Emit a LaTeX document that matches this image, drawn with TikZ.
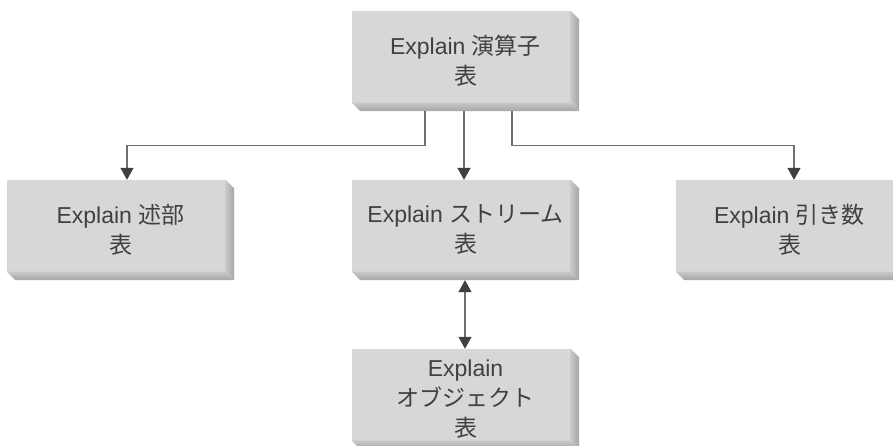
\documentclass[tikz,border=0pt]{standalone}
\usepackage{fontspec}
\setmainfont{Liberation Sans}
\newfontfamily\cjk{Noto Sans CJK JP}
\usepackage{tikz}
\usetikzlibrary{arrows.meta, backgrounds}
\definecolor{faceColor}{RGB}{215,215,215}
\definecolor{shadeLight}{RGB}{200,200,200}
\definecolor{shadeDark}{RGB}{165,165,165}
\definecolor{lineColor}{RGB}{112,112,112}
\definecolor{tipColor}{RGB}{64,64,64}
\definecolor{textColor}{RGB}{64,64,64}
\tikzstyle{diagram} = [x = 1pt, y = 1pt]
\tikzstyle{tableBox} = [minimum width = 227pt, minimum height = 100pt, inner sep = 0pt, align = center, text = textColor, font = \fontsize{23}{30}\selectfont]
\tikzstyle{faceStyle} = [fill = faceColor]
\tikzstyle{link} = [color = lineColor, line width = 1.3pt, -{Triangle[width = 13pt, length = 12pt, color = tipColor]}]
\tikzstyle{twoWayLink} = [color = lineColor, line width = 1.3pt, {Triangle[width = 13pt, length = 12pt, color = tipColor]}-{Triangle[width = 13pt, length = 12pt, color = tipColor]}]
\newcommand{\depth}{8.5}
\newcommand{\explainBox}[4]{
  \node [tableBox] (#1) at (#2, #3) {#4};
  \begin{pgfonlayer}{background}
    \fill [faceStyle] (#1.north west) rectangle ([shift = {(-\depth, \depth)}]#1.south east);
    \shade [left color = shadeLight, right color = shadeDark] ([xshift = -\depth]#1.north east) -- ([yshift = -\depth]#1.north east) -- (#1.south east) -- ([shift = {(-\depth, \depth)}]#1.south east) -- cycle;
    \shade [top color = shadeLight, bottom color = shadeDark] ([yshift = \depth]#1.south west) -- ([shift = {(-\depth, \depth)}]#1.south east) -- (#1.south east) -- ([xshift = \depth]#1.south west) -- cycle;
  \end{pgfonlayer}
}
\begin{document}
\begin{tikzpicture}[diagram]
  \useasboundingbox (0, 0) rectangle (893, 446);

  \explainBox{operators}{465.5}{385}{Explain {\cjk 演算子}\\{\cjk 表}}
  \explainBox{predicates}{120.5}{216}{Explain {\cjk 述部}\\{\cjk 表}}
  \explainBox{streams}{465.5}{216}{Explain {\cjk ストリーム}\\{\cjk 表}}
  \explainBox{arguments}{789.5}{216}{Explain {\cjk 引き数}\\{\cjk 表}}
  \explainBox{objects}{465.5}{47}{Explain\\{\cjk オブジェクト}\\{\cjk 表}}

  \draw [link] ([xshift = -40.5]operators.south) -- ++(0, -34) -| ([xshift = 6.5]predicates.north);
  \draw [link] ([xshift = -1.5]operators.south) -- ([xshift = -1.5]streams.north);
  \draw [link] ([xshift = 46.5]operators.south) -- ++(0, -34) -| ([xshift = 4.5]arguments.north);
  \draw [twoWayLink] ([xshift = -0.5]streams.south) -- ([xshift = -0.5]objects.north);
\end{tikzpicture}
\end{document}
